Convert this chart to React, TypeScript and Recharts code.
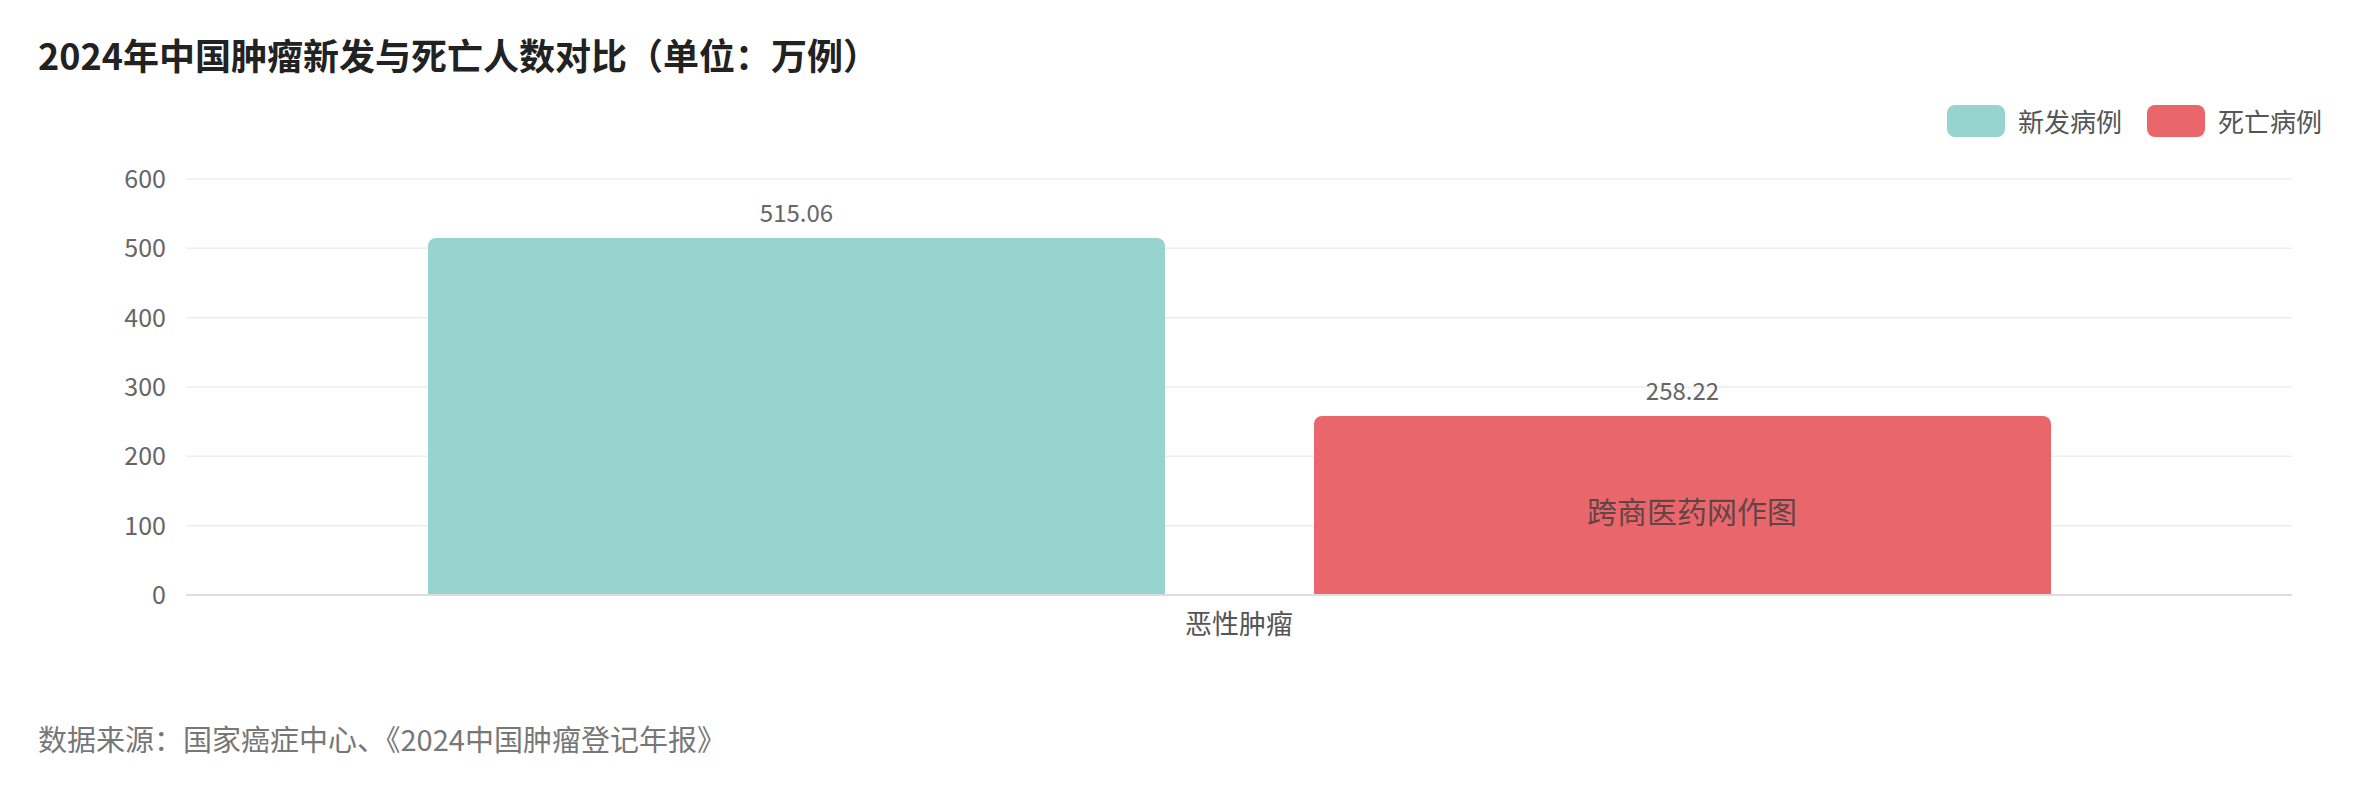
import React from "react";
import {
  BarChart,
  Bar,
  XAxis,
  YAxis,
  CartesianGrid,
  LabelList,
} from "recharts";

const categories = ["恶性肿瘤"];
const newCases = [515.06];
const deaths = [258.22];
const seriesNames = ["新发病例", "死亡病例"];
const seriesColors = ["#97d4d0", "#e9676b"];
const yTicks = [0, 100, 200, 300, 400, 500, 600];

const chartData = categories.map((name, i) => ({
  name,
  newCases: newCases[i],
  deaths: deaths[i],
}));

const FONT = '"Noto Sans CJK SC", "Noto Sans", sans-serif';

const App = () => {
  return (
    <div
      style={{
        position: "absolute",
        left: 0,
        top: 0,
        width: 2358,
        height: 800,
        background: "#fff",
        fontFamily: FONT,
      }}
    >
      <div
        style={{
          position: "absolute",
          left: 38,
          top: 28,
          fontSize: 36,
          fontWeight: 700,
          color: "#222",
          whiteSpace: "nowrap",
        }}
      >
        2024年中国肿瘤新发与死亡人数对比（单位：万例）
      </div>

      {/* legend */}
      <div
        style={{
          position: "absolute",
          right: 36,
          top: 105,
          display: "flex",
          alignItems: "center",
        }}
      >
        {seriesNames.map((name, i) => (
          <div
            key={name}
            style={{
              display: "flex",
              alignItems: "center",
              marginLeft: i === 0 ? 0 : 25,
            }}
          >
            <div
              style={{
                width: 58,
                height: 32,
                borderRadius: 8,
                background: seriesColors[i],
                marginRight: 13,
              }}
            />
            <span style={{ fontSize: 26, color: "#555", lineHeight: "32px" }}>
              {name}
            </span>
          </div>
        ))}
      </div>

      <BarChart
        width={2358}
        height={800}
        data={chartData}
        margin={{ top: 179, right: 66, left: 0, bottom: 165 }}
        barCategoryGap={242}
        barGap={149}
      >
        <CartesianGrid vertical={false} stroke="#eeeeee" strokeWidth={1.5} />
        {/* edge ticks at both ends of the category axis */}
        <XAxis
          xAxisId={0}
          type="number"
          domain={[0, 1]}
          ticks={[0, 1]}
          tick={false}
          axisLine={false}
          tickLine={{ stroke: "#dddddd", strokeWidth: 2 }}
          tickSize={11}
          height={0}
        />
        <XAxis
          xAxisId={1}
          dataKey="name"
          height={40}
          axisLine={{ stroke: "#dddddd", strokeWidth: 2 }}
          tickLine={false}
          tickSize={0}
          tickMargin={20}
          tick={{ fill: "#555", fontSize: 27 }}
        />
        <YAxis
          width={186}
          domain={[0, 600]}
          ticks={yTicks}
          axisLine={false}
          tickLine={false}
          tickSize={0}
          tickMargin={20}
          tick={{ fill: "#666", fontSize: 25 }}
        />
        <Bar
          xAxisId={1}
          dataKey="newCases"
          name={seriesNames[0]}
          fill={seriesColors[0]}
          radius={[8, 8, 0, 0]}
          isAnimationActive={false}
        >
          <LabelList
            dataKey="newCases"
            position="top"
            offset={16}
            fill="#666"
            fontSize={24}
          />
        </Bar>
        <Bar
          xAxisId={1}
          dataKey="deaths"
          name={seriesNames[1]}
          fill={seriesColors[1]}
          radius={[8, 8, 0, 0]}
          isAnimationActive={false}
        >
          <LabelList
            dataKey="deaths"
            position="top"
            offset={16}
            fill="#666"
            fontSize={24}
          />
        </Bar>
      </BarChart>

      <div
        style={{
          position: "absolute",
          left: 1692,
          top: 510,
          transform: "translate(-50%, -50%)",
          fontSize: 30,
          color: "rgba(60,60,60,0.8)",
          whiteSpace: "nowrap",
        }}
      >
        跨商医药网作图
      </div>

      <div
        style={{
          position: "absolute",
          left: 38,
          top: 738,
          transform: "translateY(-50%)",
          fontSize: 29,
          color: "#777",
          whiteSpace: "nowrap",
        }}
      >
        数据来源：国家癌症中心、《2024中国肿瘤登记年报》
      </div>
    </div>
  );
};

export default App;
